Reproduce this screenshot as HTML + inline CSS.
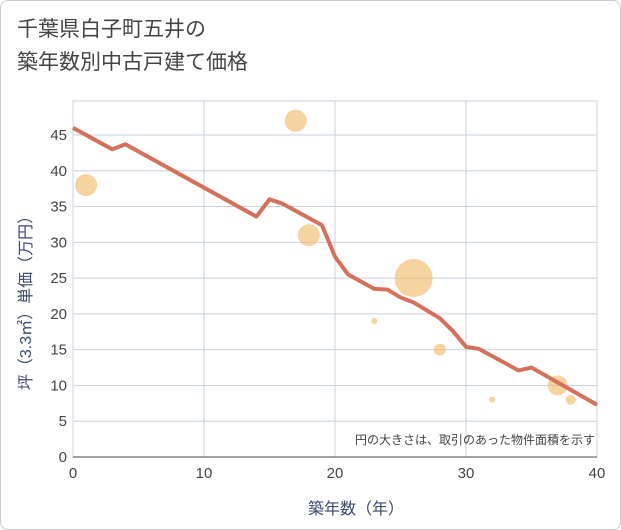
<!DOCTYPE html>
<html><head><meta charset="utf-8"><style>
body{margin:0;background:#fff;}
#wrap{position:relative;width:619px;height:528px;border:1px solid #ccc;border-radius:8px;background:#fff;font-family:"Liberation Sans","Noto Sans CJK JP",sans-serif;overflow:hidden;}
#title{position:absolute;left:16px;top:12px;font-size:21px;line-height:33px;color:#444;}
</style></head><body>
<div id="wrap">
<div id="title">千葉県白子町五井の<br>築年数別中古戸建て価格</div>
<svg id="chart" width="621" height="530" style="position:absolute;left:0;top:0"></svg>
</div>
<script>
const lineX=[0,3,4,14,15,16,19,20,21,23,24,25,26,28,29,30,31,34,35,40];
const lineY=[46,43,43.7,33.6,36,35.4,32.4,28,25.5,23.5,23.4,22.3,21.6,19.4,17.6,15.4,15.1,12.1,12.5,7.3];
const bubX=[1,17,18,26,23,28,32,37,38];
const bubY=[38,47,31,25,19,15,8,10,8];
const bubR=[11,11,11,19,3,6,3,10,5];
const xTicks=[0,10,20,30,40];
const yTicks=[0,5,10,15,20,25,30,35,40,45];
const L=72,R=596,T=100,B=456;
const sx=v=>L+(R-L)*v/40, sy=v=>B-(B-134)*v/45;
const svg=document.getElementById('chart');
const NS='http://www.w3.org/2000/svg';
function mk(t,a){const e=document.createElementNS(NS,t);for(const k in a)e.setAttribute(k,a[k]);svg.appendChild(e);return e;}
for(const v of xTicks){
 const g=mk('line',{x1:sx(v),x2:sx(v),y1:T,y2:B,stroke:'#c8d2e0','stroke-width':1});
 
 
 const t=mk('text',{x:sx(v),y:B+21,'text-anchor':'middle','font-size':15,fill:'#444'});t.textContent=v;
 
 
}
for(const v of yTicks){
 const g=mk('line',{x1:L,x2:R,y1:sy(v),y2:sy(v),stroke:'#c8d2e0','stroke-width':1});
 
 
 const t=mk('text',{x:L-6,y:sy(v)+5,'text-anchor':'end','font-size':15,fill:'#444'});t.textContent=v;
 
 
}
const fr=mk('rect',{x:L,y:T,width:R-L,height:B-T,fill:'none',stroke:'#c8d2e0'});


const ax=mk('line',{x1:L,x2:R,y1:B,y2:B,stroke:'#444','stroke-width':1});


bubX.forEach((x,i)=>{
 const c=mk('circle',{cx:sx(x),cy:sy(bubY[i]),r:bubR[i],fill:'#f0b860','fill-opacity':0.6});
 
 
});
const p=mk('polyline',{points:lineX.map((x,i)=>sx(x)+','+sy(lineY[i])).join(' '),fill:'none',stroke:'#d4705c','stroke-width':4,'stroke-linejoin':'round'});


const n=mk('text',{x:594,y:443,'text-anchor':'end','font-size':12,fill:'#444'});n.textContent='円の大きさは、取引のあった物件面積を示す';


const xt=mk('text',{x:355,y:513,'text-anchor':'middle','font-size':16,fill:'#3b4a6b'});xt.textContent='築年数（年）';


const yt=mk('text',{x:0,y:0,'text-anchor':'middle','font-size':16,fill:'#3b4a6b',transform:'translate(30,'+((T+B)/2+20)+') rotate(-90)'});yt.textContent='坪（3.3㎡）単価（万円）';


</script>
</body></html>
